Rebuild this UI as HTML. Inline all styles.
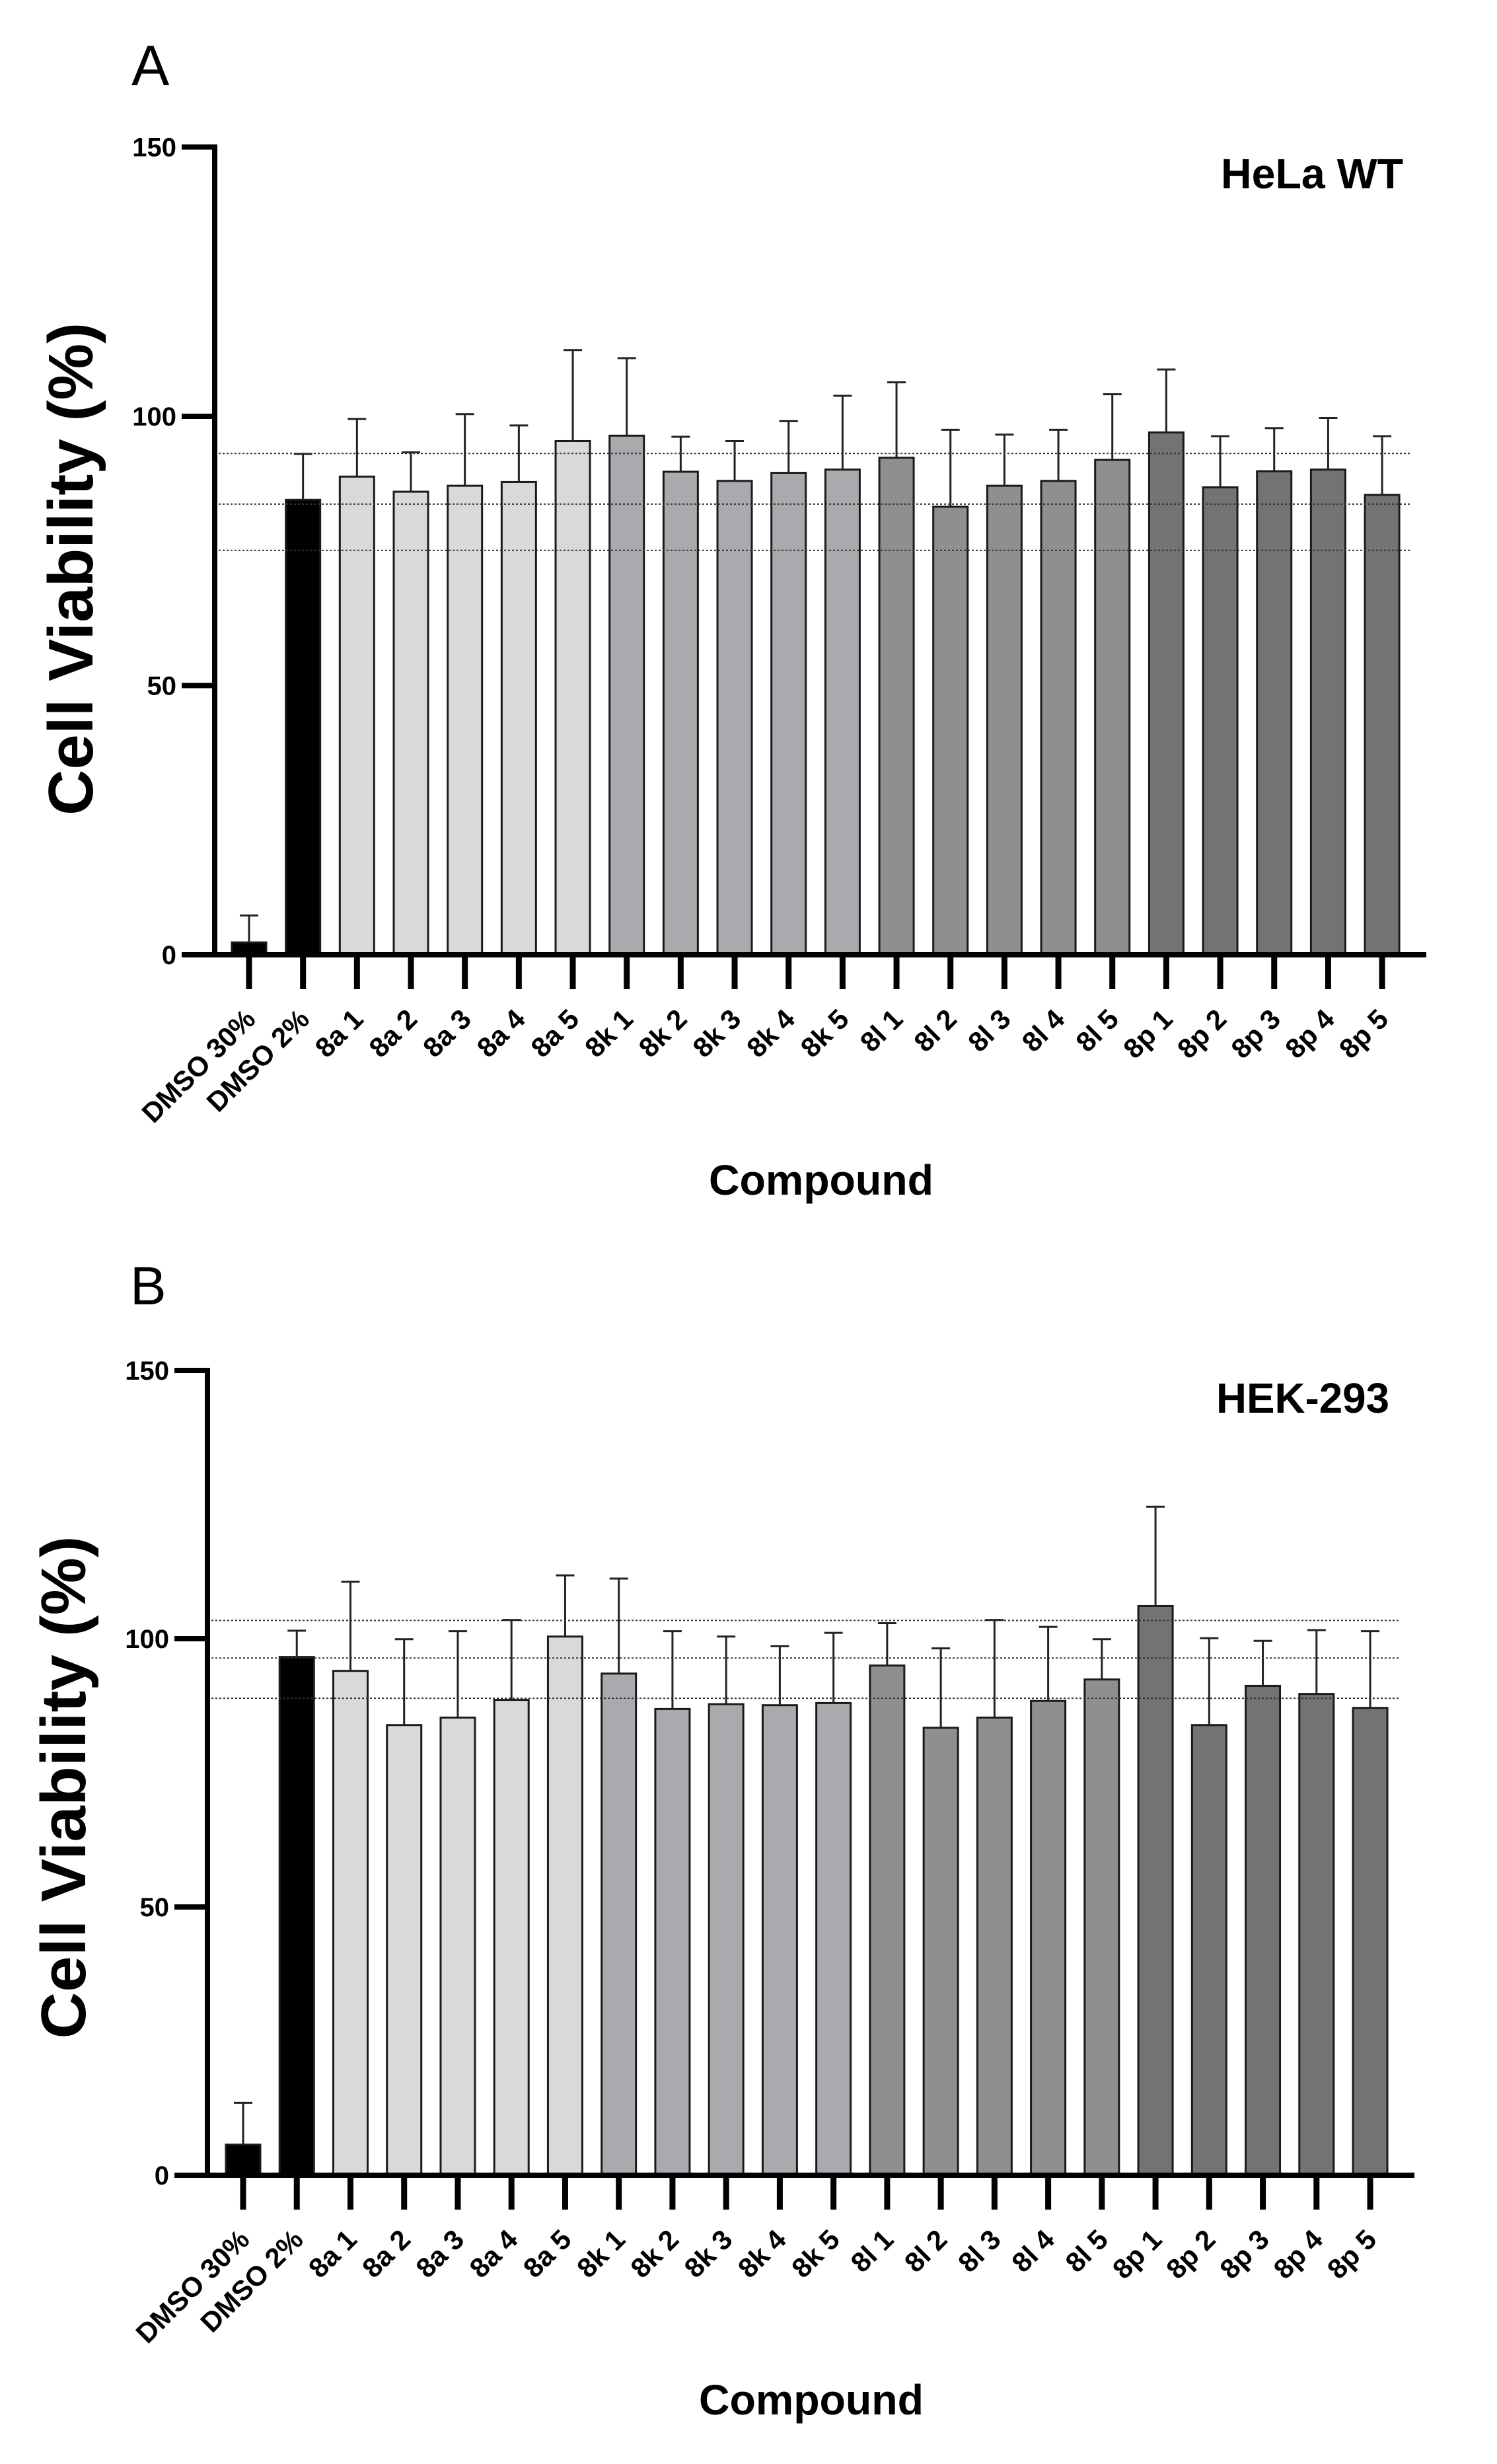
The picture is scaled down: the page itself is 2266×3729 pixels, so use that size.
<!DOCTYPE html>
<html><head><meta charset="utf-8"><style>
html,body{margin:0;padding:0;background:#fff;}
svg{display:block;font-family:"Liberation Sans",Arial,sans-serif;}
</style></head>
<body>
<svg id="fig" width="2266" height="3729" viewBox="0 0 2266 3729" xmlns="http://www.w3.org/2000/svg"></svg>
<script>
// ---- data ----
const categories = ["DMSO 30%","DMSO 2%","8a 1","8a 2","8a 3","8a 4","8a 5","8k 1","8k 2","8k 3","8k 4","8k 5","8l 1","8l 2","8l 3","8l 4","8l 5","8p 1","8p 2","8p 3","8p 4","8p 5"];
const groups = ["dmso","dmso","8a","8a","8a","8a","8a","8k","8k","8k","8k","8k","8l","8l","8l","8l","8l","8p","8p","8p","8p","8p"];
const helaMeans = [2.3,84.5,88.8,86.0,87.1,87.8,95.4,96.4,89.7,88.0,89.5,90.1,92.3,83.2,87.1,88.0,91.9,97.0,86.8,89.8,90.1,85.4];
const helaUpper = [7.3,93.0,99.5,93.3,100.4,98.3,112.3,110.8,96.2,95.4,99.1,103.8,106.3,97.5,96.6,97.5,104.1,108.7,96.3,97.8,99.7,96.3];
const helaRefLines = [93.1,83.7,75.1];
const hekMeans = [5.7,96.6,94.0,83.9,85.3,88.6,100.4,93.5,86.9,87.8,87.6,88.0,95.0,83.4,85.3,88.4,92.4,106.1,83.9,91.2,89.7,87.1];
const hekUpper = [13.5,101.5,110.6,99.9,101.4,103.5,111.8,111.2,101.4,100.4,98.6,101.1,102.9,98.2,103.5,102.2,99.9,124.6,100.1,99.6,101.6,101.4];
const hekRefLines = [103.4,96.4,88.9];
const yTicks = [0,50,100,150];

const fills = {dmso:"#000000","8a":"#d9d9d9","8k":"#aaaaae","8l":"#8f8f8f","8p":"#737373"};
const NS = "http://www.w3.org/2000/svg";
const svg = document.getElementById("fig");
function mk(tag, attrs, parent){
  const e = document.createElementNS(NS, tag);
  for (const k in attrs) e.setAttribute(k, attrs[k]);
  (parent||svg).appendChild(e);
  return e;
}

function panel(cfg){
  const g = mk("g", {});
  
  
  const y = v => cfg.y0 - v * cfg.unit;
  const x = i => cfg.x0 + i * cfg.step;

  // panel letter
  const L = mk("text", {x: cfg.letterX, y: cfg.letterY, "font-size": cfg.letterSize}, g);
  L.textContent = cfg.letter;
  
  

  // title
  const T = mk("text", {x: cfg.titleX, y: cfg.titleY, "font-size": 64, "font-weight": "bold", textLength: cfg.titleW, lengthAdjust: "spacingAndGlyphs"}, g);
  T.textContent = cfg.title;
  
  

  // bars
  cfg.means.forEach((m, i) => {
    const cx = x(i);
    const r = mk("rect", {x: cx - 26, y: y(m), width: 52, height: cfg.y0 - y(m), fill: fills[groups[i]], stroke: "#1a1a1a", "stroke-width": 3}, g);
    
    
    const u = cfg.upper[i];
    const el = mk("line", {x1: cx, x2: cx, y1: y(m), y2: y(u), stroke: "#222", "stroke-width": 3}, g);
    
    
    const cap = mk("line", {x1: cx - 14, x2: cx + 14, y1: y(u), y2: y(u), stroke: "#222", "stroke-width": 3}, g);
    
    
  });

  // reference dotted lines
  cfg.refs.forEach(v => {
    const l = mk("line", {x1: cfg.axisX, x2: cfg.refEnd, y1: y(v), y2: y(v), stroke: "#333", "stroke-width": 2, "stroke-dasharray": "3 3"}, g);
    
    
  });

  // y axis
  const ya = mk("line", {x1: cfg.axisX, x2: cfg.axisX, y1: y(150) - 4, y2: cfg.y0 + 4, stroke: "#000", "stroke-width": 8}, g);
  
  
  yTicks.forEach(t => {
    const tk = mk("line", {x1: cfg.tickStart, x2: cfg.axisX, y1: y(t), y2: y(t), stroke: "#000", "stroke-width": 8}, g);
    
    
    const tl = mk("text", {x: cfg.tickStart - 8, y: y(t) + 14, "font-size": 40, "font-weight": "bold", "text-anchor": "end"}, g);
    tl.textContent = t;
    
    
  });

  // x axis
  const xa = mk("line", {x1: cfg.tickStart, x2: cfg.xEnd, y1: cfg.y0, y2: cfg.y0, stroke: "#000", "stroke-width": 8}, g);
  
  
  categories.forEach((c, i) => {
    const cx = x(i);
    const tk = mk("line", {x1: cx, x2: cx, y1: cfg.y0, y2: cfg.y0 + 52, stroke: "#000", "stroke-width": 9}, g);
    
    
    const ax = cx + 12, ay = cfg.y0 + 100;
    const tl = mk("text", {x: ax, y: ay, "font-size": 42, "font-weight": "bold", "text-anchor": "end", transform: `rotate(-45 ${ax} ${ay})`}, g);
    tl.textContent = c;
    
    
  });

  // axis titles
  const xt = mk("text", {x: cfg.xTitleX, y: cfg.xTitleY, "font-size": 64, "font-weight": "bold", "text-anchor": "middle", textLength: 340, lengthAdjust: "spacingAndGlyphs"}, g);
  xt.textContent = "Compound";
  
  
  const yt = mk("text", {x: cfg.yTitleX, y: cfg.yTitleY, "font-size": 96, "font-weight": "bold", "text-anchor": "middle", textLength: cfg.yTitleLen, lengthAdjust: "spacingAndGlyphs", transform: `rotate(-90 ${cfg.yTitleX} ${cfg.yTitleY})`}, g);
  yt.textContent = "Cell Viability (%)";
  
  
}

panel({name: "panel-a-hela", letter: "A", letterX: 199, letterY: 129, letterSize: 86,
  title: "HeLa WT", titleX: 1848, titleY: 285, titleW: 276,
  means: helaMeans, upper: helaUpper, refs: helaRefLines,
  y0: 1445, unit: 8.15, x0: 377, step: 81.67, axisX: 325, tickStart: 275, xEnd: 2159, refEnd: 2137,
  xTitleX: 1243, xTitleY: 1808, yTitleX: 140, yTitleY: 861, yTitleLen: 746});

panel({name: "panel-b-hek293", letter: "B", letterX: 197, letterY: 1974, letterSize: 82,
  title: "HEK-293", titleX: 1841, titleY: 2138, titleW: 262,
  means: hekMeans, upper: hekUpper, refs: hekRefLines,
  y0: 3292, unit: 8.12, x0: 368, step: 81.24, axisX: 314, tickStart: 264, xEnd: 2141, refEnd: 2118,
  xTitleX: 1228, xTitleY: 3654, yTitleX: 129, yTitleY: 2705, yTitleLen: 761});
</script>
</body></html>
